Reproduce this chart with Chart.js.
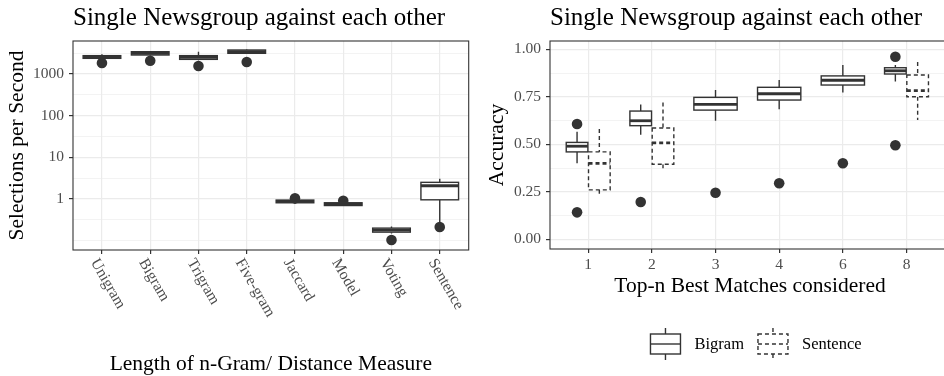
<!DOCTYPE html>
<html>
<head>
<meta charset="utf-8">
<script src="https://cdn.jsdelivr.net/npm/chart.js@4.4.1/dist/chart.umd.min.js"></script>
<style>
  html, body { margin: 0; padding: 0; background: #fff; overflow: hidden; width: 944px; height: 376px; }
  .panel { position: absolute; top: 0; height: 376px; }
  #left { left: 0; width: 474px; }
  #right { left: 470px; width: 480px; }
</style>
</head>
<body>
<div class="panel" id="left"><canvas id="speed"></canvas></div>
<div class="panel" id="right"><canvas id="acc"></canvas></div>
<script>
// --- left panel: selections per second (log scale)
const measures = ['Unigram', 'Bigram', 'Trigram', 'Five-gram', 'Jaccard', 'Model', 'Voting', 'Sentence'];
const speedLow = [2300, 2800, 2150, 3050, 0.77, 0.68, 0.15, 0.27];
const speedQ1 = [2380, 2860, 2250, 3140, 0.815, 0.70, 0.161, 0.96];
const speedMed = [2550, 3150, 2500, 3450, 0.88, 0.76, 0.18, 2.09];
const speedQ3 = [2760, 3430, 2760, 3770, 0.946, 0.815, 0.201, 2.52];
const speedHigh = [2970, 3500, 3430, 3900, 0.96, 0.83, 0.221, 3.07];
const speedOutliers = [1840, 2090, 1555, 1940, 1.04, 0.91, 0.104, 0.213];
const speedTicks = [1, 10, 100, 1000];
const speedMinor = [0.1, 0.316, 3.16, 31.6, 316, 3162];

// --- right panel: accuracy vs top-n
const topN = ['1', '2', '3', '4', '6', '8'];
const bigramLow = [0.40, 0.55, 0.624, 0.684, 0.772, 0.83];
const bigramQ1 = [0.46, 0.598, 0.68, 0.733, 0.812, 0.87];
const bigramMed = [0.49, 0.624, 0.71, 0.766, 0.837, 0.887];
const bigramQ3 = [0.51, 0.675, 0.747, 0.80, 0.86, 0.903];
const bigramHigh = [0.566, 0.71, 0.786, 0.838, 0.917, 0.917];
const bigramOutliers = [[0.607, 0.142], [0.196], [0.245], [0.295], [0.40], [0.961, 0.495]];
const sentenceLow = [0.24, 0.37, null, null, null, 0.628];
const sentenceQ1 = [0.26, 0.395, null, null, null, 0.75];
const sentenceMed = [0.40, 0.508, null, null, null, 0.782];
const sentenceQ3 = [0.46, 0.586, null, null, null, 0.865];
const sentenceHigh = [0.58, 0.72, null, null, null, 0.933];
const accTicks = [0, 0.25, 0.5, 0.75, 1];
const accMinor = [0.125, 0.375, 0.625, 0.875];

const panelTitle = 'Single Newsgroup against each other';
const FONT = "'Liberation Serif', 'DejaVu Serif', serif";
const INK = '#333333';
const GRID = '#EBEBEB';
const TICK_TEXT = '#4D4D4D';

function drawBox(c, xs, ys, b) {
  const xc = xs.getPixelForValue(b.x);
  const xl = xs.getPixelForValue(b.x - b.half);
  const xr = xs.getPixelForValue(b.x + b.half);
  const yLo = ys.getPixelForValue(b.lo), yQ1 = ys.getPixelForValue(b.q1);
  const yMed = ys.getPixelForValue(b.med), yQ3 = ys.getPixelForValue(b.q3);
  const yHi = ys.getPixelForValue(b.hi);
  c.save();
  c.strokeStyle = INK;
  c.lineWidth = 1.4;
  c.setLineDash(b.dashed ? [4, 3] : []);
  c.beginPath();
  c.moveTo(xc, yHi); c.lineTo(xc, yQ3);
  c.moveTo(xc, yQ1); c.lineTo(xc, yLo);
  c.stroke();
  c.fillStyle = '#fff';
  c.fillRect(xl, yQ3, xr - xl, yQ1 - yQ3);
  c.strokeRect(xl, yQ3, xr - xl, yQ1 - yQ3);
  c.lineWidth = 2.8;
  c.beginPath();
  c.moveTo(xl, yMed); c.lineTo(xr, yMed);
  c.stroke();
  c.restore();
}

function boxLayer(boxes) {
  return {
    id: 'boxes',
    afterDatasetsDraw(chart) {
      boxes.forEach(b => drawBox(chart.ctx, chart.scales.x, chart.scales.y, b));
    }
  };
}

function textLayer(draw) {
  return {
    id: 'texts',
    afterDraw(chart) {
      const c = chart.ctx, a = chart.chartArea;
      c.save();
      c.strokeStyle = INK;
      c.lineWidth = 1.1;
      c.strokeRect(a.left, a.top, a.right - a.left, a.bottom - a.top);
      draw(c, a, chart.scales);
      c.restore();
    }
  };
}

const majorOf = (list) => (ctx) => list.includes(ctx.tick.value);

// ---------- left chart ----------
const speedBoxes = measures.map((m, i) => ({
  x: i, half: 0.39, lo: speedLow[i], q1: speedQ1[i], med: speedMed[i], q3: speedQ3[i], hi: speedHigh[i], dashed: false
}));

new Chart(document.getElementById('speed'), {
  type: 'scatter',
  data: {
    datasets: [{
      data: measures.map((m, i) => ({ x: i, y: speedOutliers[i] })),
      pointRadius: 5.3,
      backgroundColor: INK,
      borderWidth: 0
    }]
  },
  options: {
    responsive: true,
    maintainAspectRatio: false,
    animation: false,
    layout: { padding: { top: 41, right: 3, bottom: 0, left: 0 } },
    plugins: { legend: { display: false }, tooltip: { enabled: false } },
    scales: {
      x: {
        type: 'linear', min: -0.6, max: 7.6,
        afterBuildTicks: s => { s.ticks = measures.map((m, i) => ({ value: i })); },
        afterFit: s => { s.height = 126; },
        ticks: { display: false },
        grid: { color: GRID, lineWidth: 1.2, tickColor: INK, tickLength: 4 },
        border: { display: false }
      },
      y: {
        type: 'logarithmic', min: 0.06, max: 6200,
        afterBuildTicks: s => { s.ticks = speedMinor.concat(speedTicks).sort((p, q) => p - q).map(v => ({ value: v })); },
        afterFit: s => { s.width = 73; },
        ticks: {
          callback: v => speedTicks.includes(v) ? String(v) : '',
          color: TICK_TEXT, font: { family: FONT, size: 15.5 }, padding: 5, autoSkip: false
        },
        grid: {
          color: GRID,
          lineWidth: ctx => majorOf(speedTicks)(ctx) ? 1.2 : 0.6,
          tickColor: ctx => majorOf(speedTicks)(ctx) ? INK : 'rgba(0,0,0,0)',
          tickLength: 4
        },
        border: { display: false }
      }
    }
  },
  plugins: [boxLayer(speedBoxes), textLayer((c, a, s) => {
    c.fillStyle = '#000';
    c.font = '25px ' + FONT;
    c.textAlign = 'left';
    c.textBaseline = 'alphabetic';
    c.fillText(panelTitle, a.left, 25);
    c.font = '21.5px ' + FONT;
    c.textAlign = 'center';
    c.fillText('Length of n-Gram/ Distance Measure', (a.left + a.right) / 2, 370);
    c.save();
    c.translate(17, (a.top + a.bottom) / 2);
    c.rotate(-Math.PI / 2);
    c.textBaseline = 'middle';
    c.fillText('Selections per Second', 0, 0);
    c.restore();
    c.font = '15.5px ' + FONT;
    c.fillStyle = TICK_TEXT;
    c.textAlign = 'left';
    c.textBaseline = 'middle';
    measures.forEach((m, i) => {
      const x = s.x.getPixelForValue(i);
      c.save();
      c.translate(x - 8, a.bottom + 10);
      c.rotate(Math.PI / 3);
      c.fillText(m, 0, 0);
      c.restore();
    });
  })]
});

// ---------- right chart ----------
const accBoxes = [];
const accPoints = [];
topN.forEach((n, i) => {
  const paired = sentenceMed[i] !== null;
  const bx = paired ? i - 0.175 : i;
  const half = paired ? 0.17 : 0.34;
  accBoxes.push({ x: bx, half, lo: bigramLow[i], q1: bigramQ1[i], med: bigramMed[i], q3: bigramQ3[i], hi: bigramHigh[i], dashed: false });
  bigramOutliers[i].forEach(v => accPoints.push({ x: bx, y: v }));
  if (paired) {
    accBoxes.push({ x: i + 0.175, half: 0.17, lo: sentenceLow[i], q1: sentenceQ1[i], med: sentenceMed[i], q3: sentenceQ3[i], hi: sentenceHigh[i], dashed: true });
  }
});

function legendKey(c, x, y, dashed) {
  c.save();
  c.strokeStyle = INK;
  c.lineWidth = 1.4;
  c.setLineDash(dashed ? [4, 3] : []);
  c.beginPath();
  c.moveTo(x + 15, y - 16); c.lineTo(x + 15, y - 10);
  c.moveTo(x + 15, y + 10); c.lineTo(x + 15, y + 16);
  c.stroke();
  c.strokeRect(x, y - 10, 30, 20);
  c.beginPath();
  c.moveTo(x, y); c.lineTo(x + 30, y);
  c.stroke();
  c.restore();
}

new Chart(document.getElementById('acc'), {
  type: 'scatter',
  data: {
    datasets: [{
      data: accPoints,
      pointRadius: 5.3,
      backgroundColor: INK,
      borderWidth: 0
    }]
  },
  options: {
    responsive: true,
    maintainAspectRatio: false,
    animation: false,
    layout: { padding: { top: 41, right: 0, bottom: 0, left: 0 } },
    plugins: { legend: { display: false }, tooltip: { enabled: false } },
    scales: {
      x: {
        type: 'linear', min: -0.6, max: 5.6,
        afterBuildTicks: s => { s.ticks = topN.map((n, i) => ({ value: i })); },
        afterFit: s => { s.height = 127; },
        ticks: {
          callback: v => topN[v], maxRotation: 0, autoSkip: false,
          color: TICK_TEXT, font: { family: FONT, size: 15.5 }, padding: 3
        },
        grid: { color: GRID, lineWidth: 1.2, tickColor: INK, tickLength: 4 },
        border: { display: false }
      },
      y: {
        type: 'linear', min: -0.051, max: 1.0437,
        afterBuildTicks: s => { s.ticks = accTicks.concat(accMinor).sort((p, q) => p - q).map(v => ({ value: v })); },
        afterFit: s => { s.width = 80; },
        ticks: {
          callback: v => accTicks.includes(v) ? v.toFixed(2) : '',
          color: TICK_TEXT, font: { family: FONT, size: 15.5 }, padding: 5, autoSkip: false
        },
        grid: {
          color: GRID,
          lineWidth: ctx => majorOf(accTicks)(ctx) ? 1.2 : 0.6,
          tickColor: ctx => majorOf(accTicks)(ctx) ? INK : 'rgba(0,0,0,0)',
          tickLength: 4
        },
        border: { display: false }
      }
    }
  },
  plugins: [boxLayer(accBoxes), textLayer((c, a, s) => {
    c.fillStyle = '#000';
    c.font = '25px ' + FONT;
    c.textAlign = 'left';
    c.textBaseline = 'alphabetic';
    c.fillText(panelTitle, a.left, 25);
    c.font = '21.5px ' + FONT;
    c.textAlign = 'center';
    c.fillText('Top-n Best Matches considered', 280, 292);
    c.save();
    c.translate(27, (a.top + a.bottom) / 2);
    c.rotate(-Math.PI / 2);
    c.textBaseline = 'middle';
    c.fillText('Accuracy', 0, 0);
    c.restore();
    // legend
    c.font = '16.5px ' + FONT;
    c.textAlign = 'left';
    c.textBaseline = 'middle';
    const names = ['Bigram', 'Sentence'];
    const w0 = c.measureText(names[0]).width;
    const w1 = c.measureText(names[1]).width;
    let x = 286 - (30 + 14 + w0 + 14 + 30 + 14 + w1) / 2;
    const y = 344;
    legendKey(c, x, y, false);
    c.fillText(names[0], x + 44, y + 1);
    x += 44 + w0 + 14;
    legendKey(c, x, y, true);
    c.fillText(names[1], x + 44, y + 1);
  })]
});
</script>
</body>
</html>
